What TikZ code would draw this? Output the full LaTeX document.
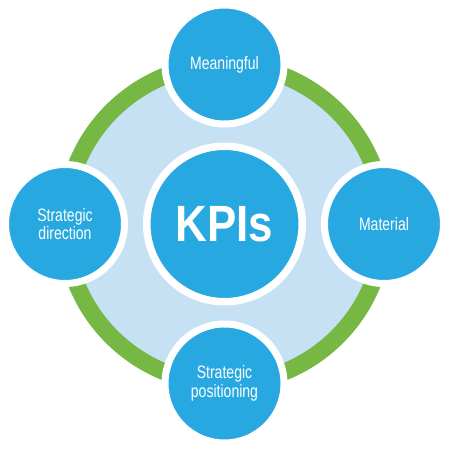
\documentclass[tikz,border=0pt]{standalone}
\usepackage{fontspec}
\setmainfont{Liberation Sans}[FakeStretch=0.78]
\newfontfamily\kpifont{Liberation Sans}[FakeStretch=0.86]
\usetikzlibrary{positioning}
\definecolor{kpiblue}{HTML}{27A8E0}
\definecolor{kpilight}{HTML}{C6E0F4}
\definecolor{kpigreen}{HTML}{77B743}
\tikzset{
    %Define style for the outer circles
    punkt/.style={
           circle,
           fill=kpiblue,
           draw=white, line width=7pt,
           minimum size=119pt,
           inner sep=0pt,
           text=white,
           align=center,
           font=\fontsize{18}{18.5}\selectfont},
    %Define style for the centre circle
    hub/.style={
           punkt,
           line width=7.5pt,
           minimum size=155.5pt,
           font=\kpifont\bfseries\fontsize{51}{51}\selectfont}
}
\begin{document}
\begin{tikzpicture}[x=1pt,y=1pt,node distance=159.5pt,on grid]
\useasboundingbox[fill=white] (-224.5,-226) rectangle (225.5,224);
 %ring
\fill[kpilight] (0,0) circle (151);
\draw[kpigreen, line width=17pt] (0,0) circle (159.5);
 %nodes
\node[hub](kpi) at (0,0){KPIs};
\node[punkt, above=of kpi](mean){Meaningful};
\node[punkt, right=of kpi](mat){Material};
\node[punkt, below=of kpi](pos){Strategic\\positioning};
\node[punkt, left=of kpi](dir){Strategic\\direction};
\end{tikzpicture}
\end{document}
